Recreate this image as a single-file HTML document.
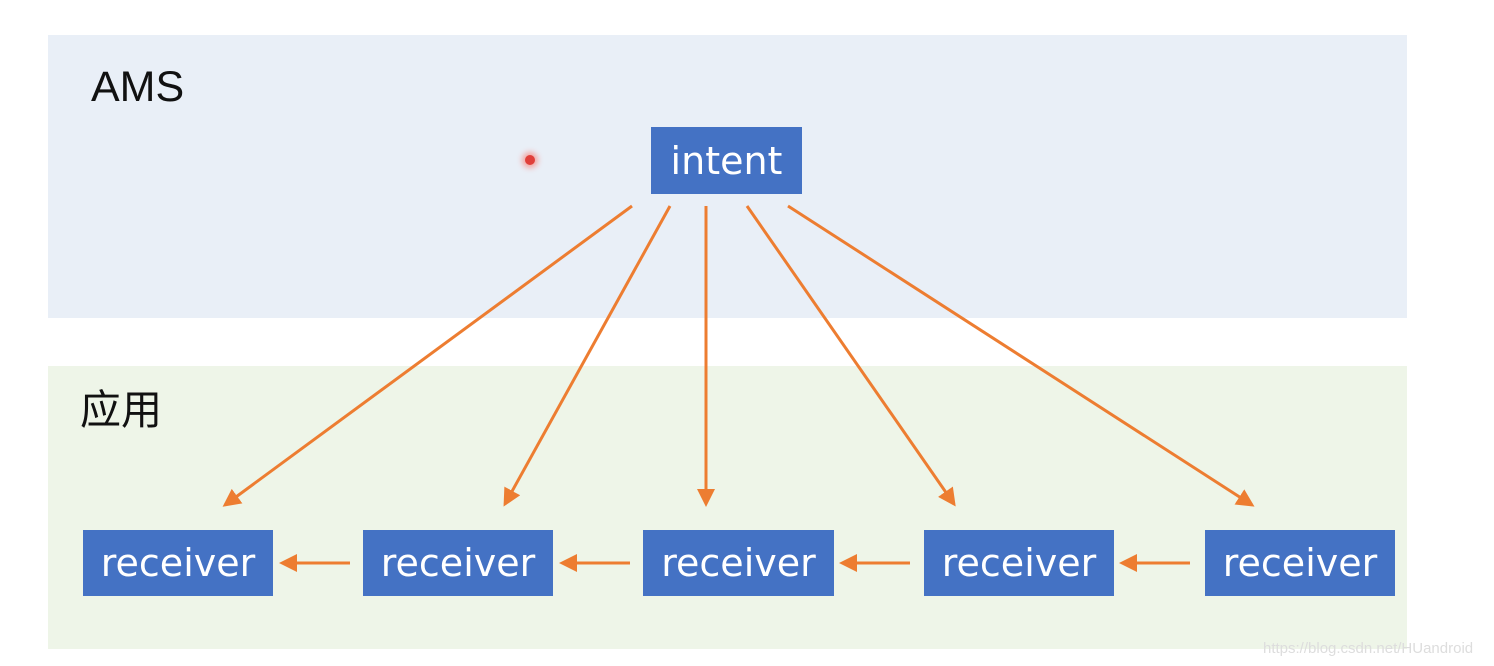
<!DOCTYPE html>
<html><head><meta charset="utf-8"><style>
body{margin:0;width:1494px;height:666px;background:#fff;position:relative;overflow:hidden;font-family:"Liberation Sans","Noto Sans CJK SC",sans-serif}
.r{position:absolute}
.b{position:absolute;background:#4472c4;color:#fff;font-size:38px;display:flex;align-items:center;justify-content:center;font-family:"DejaVu Sans","Liberation Sans",sans-serif}
</style></head><body>
<div class="r" style="left:48px;top:35px;width:1359px;height:283px;background:#e9eff7"></div>
<div class="r" style="left:48px;top:366px;width:1359px;height:283px;background:#eef5e8"></div>
<div class="r" style="left:91px;top:63px;font-size:43px;color:#111">AMS</div>
<div class="r" style="left:80px;top:376px;font-size:41px;color:#111">应用</div>
<div class="r" style="left:525px;top:155px;width:10px;height:10px;border-radius:50%;background:#e0403a;box-shadow:0 0 6px 3px #f4a5a0"></div>
<div class="b" style="left:651px;top:127px;width:151px;height:67px">intent</div>
<div class="b" style="left:83px;top:530px;width:190px;height:66px">receiver</div>
<div class="b" style="left:363px;top:530px;width:190px;height:66px">receiver</div>
<div class="b" style="left:643px;top:530px;width:191px;height:66px">receiver</div>
<div class="b" style="left:924px;top:530px;width:190px;height:66px">receiver</div>
<div class="b" style="left:1205px;top:530px;width:190px;height:66px">receiver</div>
<svg class="r" style="left:0;top:0" width="1494" height="666">
<defs><marker id="a" markerWidth="6" markerHeight="6" refX="5" refY="3" orient="auto" markerUnits="strokeWidth"><path d="M0,0 L6,3 L0,6 z" fill="#ed7d31"/></marker></defs>
<g stroke="#ed7d31" stroke-width="3" marker-end="url(#a)">
<line x1="632" y1="206" x2="225" y2="505"/>
<line x1="670" y1="206" x2="505" y2="504"/>
<line x1="706" y1="206" x2="706" y2="504"/>
<line x1="747" y1="206" x2="954" y2="504"/>
<line x1="788" y1="206" x2="1252" y2="505"/>
<line x1="350" y1="563" x2="282" y2="563"/>
<line x1="630" y1="563" x2="562" y2="563"/>
<line x1="910" y1="563" x2="842" y2="563"/>
<line x1="1190" y1="563" x2="1122" y2="563"/>
</g></svg>
<div class="r" style="left:1263px;top:640px;font-size:15px;color:#ddd">https://blog.csdn.net/HUandroid</div>
</body></html>
